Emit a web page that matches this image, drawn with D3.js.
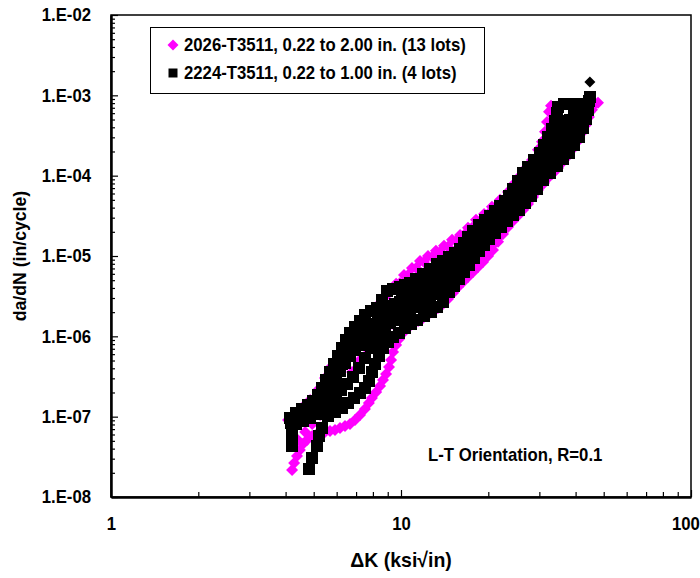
<!DOCTYPE html>
<html>
<head>
<meta charset="utf-8">
<script src="https://cdn.jsdelivr.net/npm/d3@7"></script>
<style>
  body { margin: 0; background: #fff; }
  text { font-family: "Liberation Sans", Arial, sans-serif; font-weight: bold; fill: #000; }
</style>
</head>
<body>
<svg id="chart" width="700" height="578"></svg>
<script>

// ---- data: [deltaK (ksi*sqrt(in)), da/dN (in/cycle)] ----

// 2026-T3511, magenta diamonds (lots grouped by the strands that show in the band)
var lot2026a = [[4.21,2.17e-8],[4.28,2.65e-8],[4.38,3.24e-8],[4.48,3.85e-8],[4.59,4.57e-8],[4.74,5.12e-8],[4.94,5.75e-8],[5.17,6.26e-8],[5.47,6.44e-8],[5.69,6.63e-8],[5.92,6.83e-8],[6.16,7.23e-8],[6.41,7.65e-8],[6.67,8.1e-8],[6.94,9.09e-8],[7.22,1.05e-7],[7.51,1.25e-7],[7.75,1.48e-7],[7.94,1.71e-7],[8.21,2.03e-7],[8.47,2.41e-7],[8.67,2.86e-7],[8.88,3.4e-7],[9.09,4.16e-7],[9.24,5.08e-7],[9.39,6.39e-7],[9.62,7.81e-7],[9.85,9.27e-7],[10.16,1.1e-6],[10.57,1.27e-6],[10.91,1.43e-6],[11.45,1.55e-6],[11.91,1.69e-6],[12.39,1.85e-6],[12.89,2.01e-6],[13.41,2.26e-6],[13.96,2.53e-6],[14.52,2.92e-6],[15.11,3.47e-6],[15.73,4.12e-6],[16.36,4.76e-6],[17.02,5.49e-6],[17.72,6.34e-6],[18.43,7.31e-6],[19.18,8.44e-6],[19.96,1.0e-5],[20.76,1.19e-5],[21.61,1.5e-5],[22.48,1.88e-5],[23.39,2.3e-5],[24.33,2.73e-5],[25.31,3.16e-5],[26.34,3.75e-5],[27.41,4.45e-5],[28.52,5.44e-5],[29.68,6.65e-5],[30.87,7.9e-5],[32.12,9.38e-5],[33.42,1.08e-4],[34.78,1.25e-4],[36.19,1.49e-4],[37.65,1.76e-4],[39.18,2.16e-4],[40.77,2.71e-4],[42.08,3.41e-4],[43.44,4.29e-4],[44.48,5.39e-4],[45.56,6.6e-4],[46.66,7.85e-4],[47.78,8.06e-4]];

var lot2026b = [[4.08,9.09e-8],[4.31,1.08e-7],[4.55,1.28e-7],[4.86,1.61e-7],[5.17,2.15e-7],[5.47,3.03e-7],[5.78,4.28e-7],[6.16,6.39e-7],[6.56,9.54e-7],[7.0,1.35e-6],[7.45,1.74e-6],[7.95,2.13e-6],[8.47,2.6e-6],[9.02,3.37e-6],[9.62,4.5e-6],[10.24,5.81e-6],[10.91,7.11e-6],[11.63,8.69e-6],[12.39,1.0e-5],[13.2,1.16e-5],[14.07,1.34e-5],[15.0,1.59e-5],[15.98,1.83e-5],[17.02,2.24e-5],[18.14,2.82e-5],[19.34,3.34e-5],[20.59,4.09e-5],[21.95,5.0e-5],[23.39,6.28e-5],[24.52,7.9e-5],[25.72,9.9e-5],[26.98,1.25e-4],[28.3,1.57e-4],[29.68,2.1e-4],[30.63,2.64e-4],[31.37,3.51e-4],[31.87,4.67e-4],[32.38,6.23e-4],[32.9,7.4e-4]];

var lot2026c = [[4.41,5.12e-8],[4.67,6.44e-8],[4.94,8.1e-8],[5.26,1.05e-7],[5.6,1.4e-7],[5.97,1.86e-7],[6.36,2.55e-7],[6.78,3.6e-7],[7.22,5.08e-7],[7.70,6.77e-7],[8.21,9.0e-7],[8.74,1.13e-6],[9.32,1.43e-6],[9.92,1.79e-6],[10.57,2.13e-6],[11.27,2.46e-6],[12.0,2.84e-6],[12.79,3.28e-6],[13.63,3.89e-6],[14.52,4.76e-6],[15.48,5.98e-6],[16.49,7.53e-6],[17.58,9.45e-6],[18.73,1.19e-5],[19.96,1.5e-5],[21.27,1.94e-5],[22.66,2.44e-5],[24.14,3.16e-5],[25.72,3.97e-5],[27.41,4.99e-5],[29.21,6.28e-5],[31.12,8.13e-5],[33.16,1.05e-4],[35.34,1.4e-4],[37.65,1.87e-4],[39.81,2.56e-4],[41.75,3.41e-4],[43.44,4.67e-4],[44.84,6.23e-4],[45.92,7.85e-4]];

var lot2026d = [[9.92,4.62e-6],[10.57,5.81e-6],[11.27,7.11e-6],[12.0,8.44e-6],[12.79,9.7e-6],[13.63,1.12e-5],[14.52,1.3e-5],[15.48,1.54e-5],[16.49,1.83e-5],[17.58,2.24e-5],[18.73,2.73e-5],[19.96,3.34e-5],[21.27,4.09e-5],[22.66,4.99e-5],[23.95,6.28e-5],[25.12,7.9e-5],[26.34,1.0e-4],[27.63,1.25e-4],[28.98,1.62e-4]];

var lot2026e = [[14.29,3.01e-6],[14.88,3.57e-6],[15.48,4.24e-6],[16.11,4.89e-6],[16.75,5.65e-6],[17.44,6.52e-6],[18.14,7.53e-6],[18.88,8.94e-6],[19.65,1.03e-5],[20.43,1.23e-5],[21.27,1.5e-5],[22.13,1.83e-5],[23.02,2.24e-5],[23.95,2.73e-5],[24.92,3.16e-5],[25.93,3.75e-5],[26.98,4.45e-5],[28.07,5.29e-5],[29.21,6.46e-5],[30.39,7.9e-5],[31.62,9.38e-5],[32.9,1.12e-4],[34.23,1.29e-4],[35.62,1.49e-4],[37.06,1.76e-4],[38.57,2.1e-4],[40.13,2.64e-4],[41.42,3.31e-4],[42.76,4.17e-4],[44.13,5.39e-4],[45.2,6.6e-4]];

// 2224-T3511, black squares
var lot2224a = [[4.21,4.31e-8],[4.21,5.43e-8],[4.21,6.83e-8],[4.17,8.34e-8],[4.14,9.63e-8],[4.34,1.11e-7],[4.55,1.25e-7],[4.78,1.4e-7],[4.98,1.57e-7],[5.17,1.86e-7],[5.34,2.28e-7],[5.51,2.86e-7],[5.69,3.6e-7],[5.87,4.53e-7],[6.06,5.7e-7],[6.26,7.17e-7],[6.46,9.0e-7],[6.67,1.1e-6],[6.94,1.31e-6],[7.22,1.55e-6],[7.51,1.85e-6],[7.88,2.07e-6],[8.27,2.26e-6],[8.61,2.84e-6],[8.95,3.68e-6],[9.39,3.89e-6],[9.92,4.12e-6],[10.32,4.37e-6],[10.74,4.62e-6],[11.27,5.19e-6],[11.91,5.98e-6],[12.59,6.92e-6],[13.31,7.97e-6],[13.96,8.69e-6],[14.64,9.7e-6],[15.36,1.09e-5],[15.98,1.23e-5],[16.49,1.46e-5],[17.02,1.73e-5],[17.72,2.05e-5],[18.58,2.44e-5],[19.49,2.82e-5],[20.27,3.16e-5],[21.10,3.65e-5],[21.95,4.2e-5],[22.84,4.86e-5],[23.57,5.6e-5],[24.33,6.85e-5],[25.31,8.61e-5],[26.34,1.08e-4],[27.41,1.29e-4],[28.75,1.57e-4],[30.15,1.92e-4],[31.12,2.42e-4],[32.12,3.04e-4],[33.16,3.83e-4],[33.96,4.82e-4],[34.5,6.06e-4],[34.78,7.19e-4],[36.48,7.85e-4],[38.26,7.85e-4]];

var lot2224b = [[4.82,2.23e-8],[4.94,3.06e-8],[5.13,4.31e-8],[5.22,5.75e-8],[5.34,7.23e-8],[5.6,1.02e-7],[5.92,1.14e-7],[6.26,1.28e-7],[6.56,1.48e-7],[6.88,1.71e-7],[7.22,1.97e-7],[7.51,2.28e-7],[7.76,2.78e-7],[7.95,3.6e-7],[8.14,4.53e-7],[8.40,5.7e-7],[8.67,7.17e-7],[9.02,8.5e-7],[9.39,9.7e-7],[9.84,1.1e-6],[10.32,1.27e-6],[10.83,1.43e-6],[11.36,1.6e-6],[12.0,1.79e-6],[12.69,2.01e-6],[13.31,2.32e-6],[13.96,2.68e-6],[14.64,3.57e-6],[15.24,4.24e-6],[15.85,5.19e-6],[16.49,6.34e-6],[17.16,7.76e-6],[17.86,9.45e-6],[18.58,1.16e-5],[19.34,1.37e-5],[20.11,1.63e-5],[21.10,1.94e-5],[22.13,2.3e-5],[23.2,2.73e-5],[24.33,3.25e-5],[25.52,3.75e-5],[26.77,4.58e-5],[28.07,5.6e-5],[29.44,6.85e-5],[30.87,8.85e-5],[32.64,1.08e-4],[34.5,1.32e-4],[36.19,1.62e-4],[37.96,1.92e-4],[39.49,2.42e-4],[41.09,3.04e-4],[42.41,3.94e-4],[43.44,5.1e-4],[44.13,6.6e-4],[44.48,8.55e-4]];

var lot2224c = [[4.34,8.1e-8],[4.59,8.83e-8],[4.86,9.63e-8],[5.13,1.08e-7],[5.43,1.21e-7],[5.74,1.44e-7],[5.97,1.71e-7],[6.21,2.15e-7],[6.51,2.55e-7],[6.83,3.12e-7],[7.16,4.04e-7],[7.51,5.38e-7],[7.88,7.37e-7],[8.27,9.7e-7],[8.74,1.31e-6],[9.24,1.65e-6],[9.76,2.13e-6],[10.32,2.46e-6],[10.91,2.84e-6],[11.54,3.18e-6],[12.2,3.57e-6],[12.89,4.12e-6],[13.63,4.76e-6],[14.41,5.65e-6],[15.24,6.71e-6],[16.11,8.2e-6],[17.02,1.03e-5],[18.0,1.34e-5],[19.03,1.68e-5],[20.11,2.11e-5],[21.27,2.66e-5],[22.48,3.34e-5],[23.76,4.2e-5],[25.12,5.29e-5],[26.56,6.65e-5],[28.07,8.61e-5],[29.68,1.12e-4],[31.37,1.49e-4],[33.16,1.98e-4],[34.78,2.64e-4],[36.48,3.51e-4],[37.96,4.67e-4],[39.49,6.23e-4],[40.77,7.85e-4]];

var lot2224d = [[4.48,1.02e-7],[4.78,1.21e-7],[5.09,1.52e-7],[5.38,1.92e-7],[5.69,2.55e-7],[5.97,3.4e-7],[6.26,4.53e-7],[6.56,6.04e-7],[6.88,7.81e-7],[7.22,9.7e-7],[7.57,1.2e-6],[7.95,1.43e-6],[8.34,1.69e-6],[8.88,2.01e-6],[9.46,2.39e-6],[10.08,2.84e-6],[10.74,3.28e-6],[11.45,3.78e-6],[12.2,4.37e-6],[13.0,5.04e-6],[13.85,5.81e-6],[14.76,7.11e-6],[15.73,8.69e-6],[16.75,1.09e-5],[17.86,1.37e-5],[19.03,1.73e-5],[20.27,2.24e-5],[21.61,2.82e-5],[23.02,3.54e-5],[24.52,4.45e-5],[26.13,5.6e-5],[27.85,7.05e-5],[29.68,8.85e-5],[31.62,1.12e-4],[33.69,1.44e-4],[35.62,1.87e-4],[37.65,2.42e-4],[39.49,3.22e-4],[41.09,4.17e-4],[42.41,5.55e-4],[43.44,7.4e-4],[44.84,9.54e-4]];

var lot2224e = [[5.69,2.34e-7],[5.92,2.95e-7],[6.16,3.71e-7],[6.41,4.66e-7],[6.67,5.7e-7],[6.94,6.77e-7],[7.22,7.81e-7],[7.51,9.0e-7],[7.82,1.04e-6],[8.14,1.27e-6],[8.47,1.55e-6],[8.81,1.9e-6],[9.17,2.32e-6],[9.54,2.53e-6],[9.92,2.68e-6],[10.32,2.92e-6],[10.74,3.1e-6],[11.18,3.37e-6],[11.63,3.68e-6],[12.10,4.12e-6],[12.59,4.5e-6],[13.10,5.04e-6],[13.63,5.49e-6],[14.18,6.16e-6],[14.76,6.92e-6],[15.36,7.97e-6],[15.98,8.94e-6],[16.62,1.09e-5],[17.30,1.34e-5],[18.0,1.59e-5],[18.73,1.88e-5],[19.49,2.24e-5],[20.27,2.58e-5],[21.10,2.98e-5],[21.95,3.44e-5],[22.84,4.09e-5],[23.76,4.72e-5],[24.72,5.6e-5],[25.72,6.65e-5],[26.77,8.13e-5],[27.85,9.9e-5],[28.98,1.18e-4],[30.15,1.4e-4],[31.37,1.82e-4],[32.64,2.35e-4],[33.96,3.31e-4],[35.34,4.55e-4],[36.77,4.82e-4],[38.26,4.95e-4],[39.81,5.55e-4],[41.42,6.23e-4]];

var lot2224f = [[8.14,7.17e-7],[8.47,9.0e-7],[8.81,1.17e-6],[9.17,1.47e-6],[9.54,1.6e-6],[9.92,1.69e-6],[10.32,1.9e-6],[10.74,2.07e-6],[11.18,2.32e-6],[11.63,2.53e-6],[12.10,2.76e-6],[12.59,3.01e-6],[13.10,3.37e-6],[13.63,3.68e-6],[14.18,4.24e-6],[14.76,4.76e-6],[15.36,5.65e-6],[15.98,6.52e-6],[16.62,7.97e-6],[17.30,9.7e-6],[18.0,1.19e-5],[18.73,1.41e-5],[19.49,1.73e-5],[20.27,2.05e-5],[21.10,2.37e-5],[21.95,2.73e-5],[22.84,3.25e-5],[23.76,3.75e-5],[24.72,4.33e-5],[25.72,4.99e-5],[26.77,5.94e-5],[27.85,7.05e-5],[28.98,8.61e-5],[30.15,1.02e-4],[31.37,1.29e-4],[32.64,1.57e-4],[33.96,2.1e-4],[35.34,2.71e-4],[36.77,2.96e-4],[38.26,3.13e-4],[39.81,3.72e-4],[41.42,4.55e-4],[43.10,5.72e-4]];

var lot2224g = [[4.44,9.09e-8],[4.71,1.05e-7],[4.98,1.21e-7],[5.26,1.44e-7],[5.56,1.71e-7],[5.83,2.03e-7]];

// the lone black diamond at the top end of the band
var strayPoint = [[44.8,1.47e-3]];

var kTicks = [1, 10, 100];
var kMinorTicks = [2,3,4,5,6,7,8,9,20,30,40,50,60,70,80,90];
var rateTicks = [1e-8,1e-7,1e-6,1e-5,1e-4,1e-3,1e-2];
var legendLabels = ["2026-T3511, 0.22 to 2.00 in. (13 lots)", "2224-T3511, 0.22 to 1.00 in. (4 lots)"];
var noteText = "L-T Orientation, R=0.1";

// ---- chart ----
var margin = {top: 15, right: 9, bottom: 81, left: 111};
var W = 700, H = 578;
var sx = 0.93;   // source font is condensed: squeeze Liberation Sans a little

var svg = d3.select("#chart");

var x = d3.scaleLog().domain([1, 100]).range([margin.left, W - margin.right]);
var y = d3.scaleLog().domain([1e-8, 1e-2]).range([H - margin.bottom, margin.top]);

var rateMinor = [];
rateTicks.slice(0, -1).forEach(function(d){
    for (var m = 2; m <= 9; m++) rateMinor.push(d * m);
});

// squeeze text horizontally, keeping its anchor where it is
function squeeze(sel){
    sel.each(function(){
        var t = d3.select(this);
        var x0 = +t.attr("x") || 0;
        var tr = t.attr("transform") || "";
        t.attr("x", x0 / sx).attr("transform", tr + " scale(" + sx + ",1)");
    });
}

var symDiamond = "M0,-6L6,0L0,6L-6,0Z";
var symSquare = "M-6,-6H6V6H-6Z";

function drawLots(g, lots, d, fill){
    lots.forEach(function(lot){
        g.selectAll(null)
            .data(lot)
            .enter()
            .append("path")
            .attr("d", d)
            .attr("fill", fill)
            .attr("transform", function(p){ return "translate(" + x(p[0]) + "," + y(p[1]) + ")"; });
    });
}

// magenta first, black over them
drawLots(svg.append("g"), [lot2026a, lot2026b, lot2026c, lot2026d, lot2026e], symDiamond, "#ff00ff");
drawLots(svg.append("g").attr("shape-rendering", "crispEdges"),
    [lot2224a, lot2224b, lot2224c, lot2224d, lot2224e, lot2224f, lot2224g], symSquare, "#000");
drawLots(svg.append("g"), [strayPoint], "M0,-5.5L5.5,0L0,5.5L-5.5,0Z", "#000");

// plot frame
svg.append("rect")
    .attr("x", margin.left)
    .attr("y", margin.top)
    .attr("width", W - margin.left - margin.right)
    .attr("height", H - margin.top - margin.bottom)
    .attr("fill", "none")
    .attr("stroke", "#000")
    .attr("stroke-width", 1.5);

// y axis: ticks point into the plot, labels on the left
var yFmt = function(d){
    var e = Math.round(Math.log10(d));
    return "1.E" + (e < 0 ? "-" : "+") + String(Math.abs(e)).padStart(2, "0");
};

svg.append("g")
    .attr("transform", "translate(" + margin.left + ",0)")
    .call(d3.axisLeft(y).tickValues(rateMinor).tickSize(-4).tickSizeOuter(0).tickFormat(""))
    .call(function(g){ g.select(".domain").remove(); });

var yAxis = svg.append("g")
    .attr("transform", "translate(" + margin.left + ",0)")
    .call(d3.axisLeft(y).tickValues(rateTicks).tickSize(-7).tickSizeOuter(0).tickPadding(20).tickFormat(yFmt));
yAxis.select(".domain").attr("stroke-width", 2.5);
yAxis.selectAll("text").style("font-size", "18px");
squeeze(yAxis.selectAll("text"));

// x axis
svg.append("g")
    .attr("transform", "translate(0," + (H - margin.bottom) + ")")
    .call(d3.axisBottom(x).tickValues(kMinorTicks).tickSize(-5).tickSizeOuter(0).tickFormat(""))
    .call(function(g){ g.select(".domain").remove(); });

var xAxis = svg.append("g")
    .attr("transform", "translate(0," + (H - margin.bottom) + ")")
    .call(d3.axisBottom(x).tickValues(kTicks).tickSize(-7).tickSizeOuter(0).tickPadding(20).tickFormat(d3.format("d")));
xAxis.select(".domain").attr("stroke-width", 2.5);
xAxis.selectAll("text").style("font-size", "18px");
xAxis.selectAll("text").filter(function(d){ return d === 100; }).attr("dx", -6);
squeeze(xAxis.selectAll("text"));

svg.selectAll(".tick line").attr("stroke-width", 1.2);

// axis titles
var yTitle = svg.append("text")
    .attr("transform", "translate(19," + ((margin.top + H - margin.bottom) / 2) + ") rotate(-90)")
    .attr("text-anchor", "middle")
    .attr("dy", "0.35em")
    .style("font-size", "19px")
    .text("da/dN (in/cycle)");
squeeze(yTitle);

var xTitle = svg.append("text")
    .attr("transform", "translate(" + ((margin.left + W - margin.right) / 2) + ",560)")
    .attr("text-anchor", "middle")
    .attr("dy", "0.35em")
    .style("font-size", "21px")
    .text("\u0394K (ksi\u221Ain)");
squeeze(xTitle);

// note
var note = svg.append("text")
    .attr("transform", "translate(428,455)")
    .attr("dy", "0.35em")
    .style("font-size", "18px")
    .text(noteText);
squeeze(note);

// legend
var legend = svg.append("g").attr("transform", "translate(150,27)");
legend.append("rect")
    .attr("x", 0.5).attr("y", 0.5)
    .attr("width", 334).attr("height", 66)
    .attr("fill", "#fff")
    .attr("stroke", "#000")
    .attr("stroke-width", 1);

var legendSymbols = [{d: "M0,-5.5L5.5,0L0,5.5L-5.5,0Z", fill: "#ff00ff"}, {d: "M-4.5,-4.5H4.5V4.5H-4.5Z", fill: "#000"}];
legendLabels.forEach(function(label, i){
    var row = legend.append("g").attr("transform", "translate(23," + (18 + i * 28) + ")");
    row.append("path").attr("d", legendSymbols[i].d).attr("fill", legendSymbols[i].fill);
    var t = row.append("text")
        .attr("x", 11)
        .attr("dy", "0.36em")
        .style("font-size", "18px")
        .text(label);
    squeeze(t);
});

</script>
</body>
</html>
